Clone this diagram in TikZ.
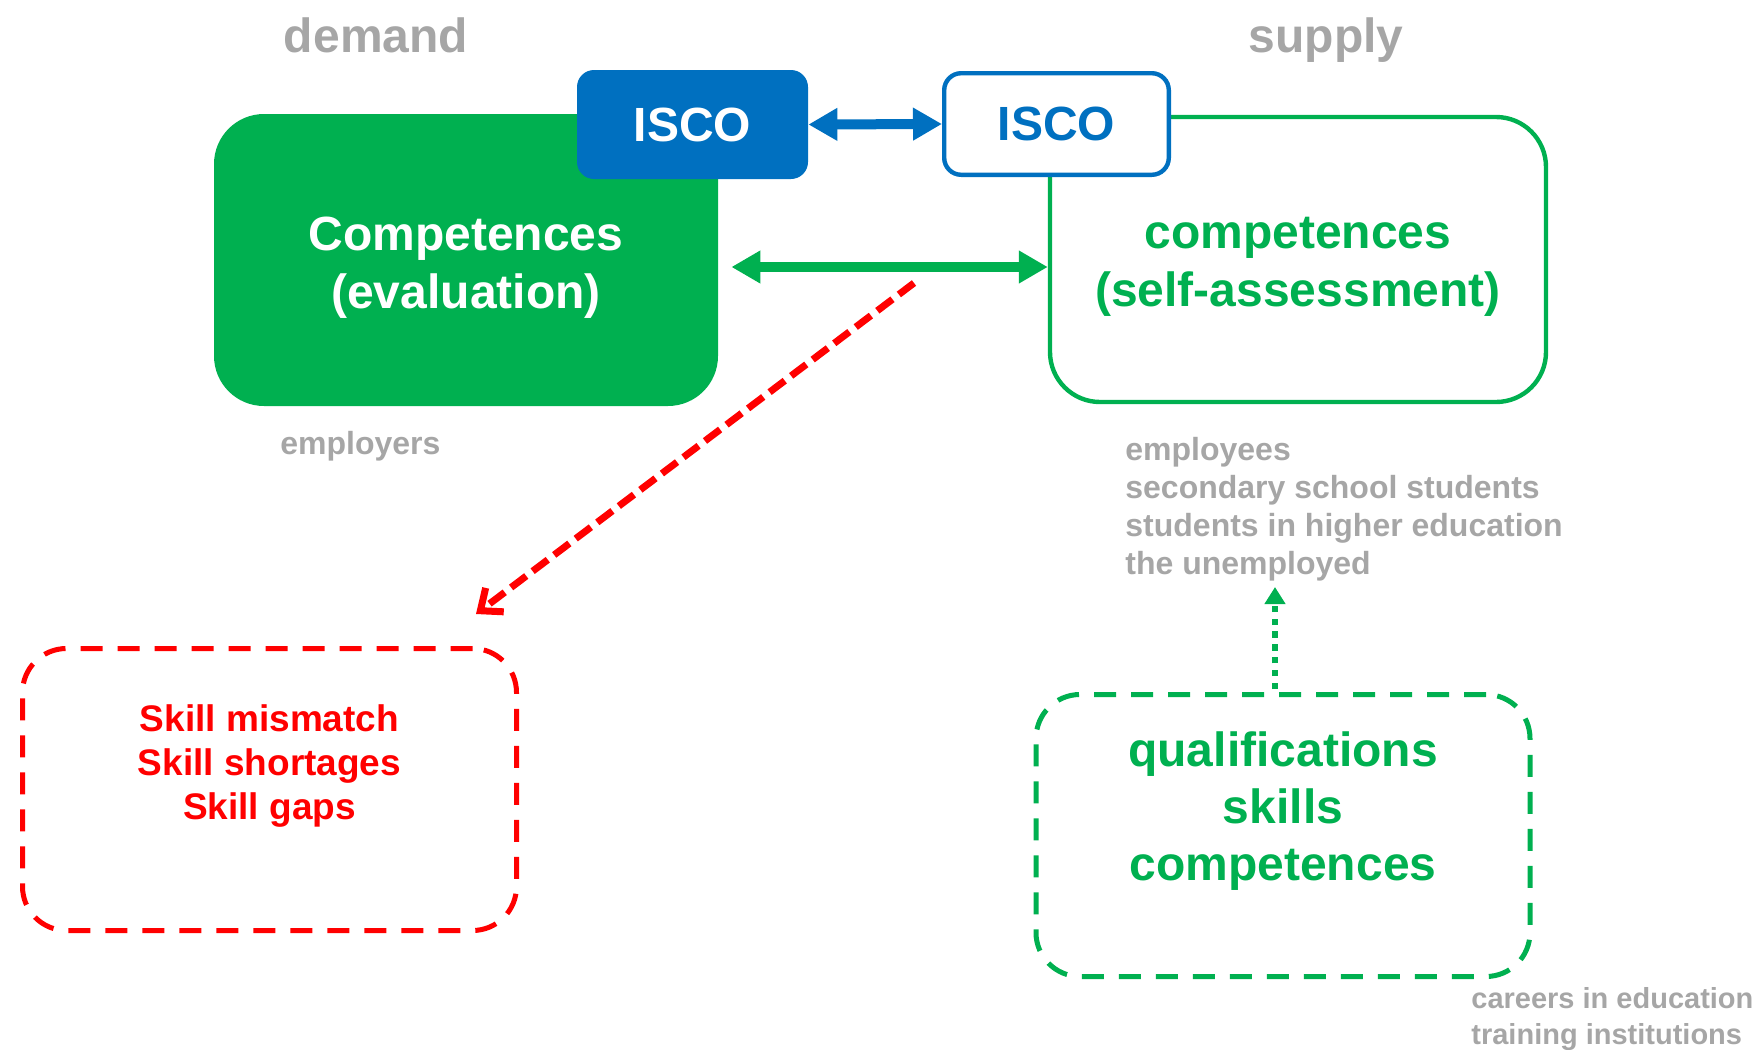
\documentclass[tikz,border=0pt]{standalone}
\usepackage{fontspec}
\setmainfont{Liberation Sans}
\usetikzlibrary{arrows.meta}
\definecolor{skgreen}{HTML}{00B050}
\definecolor{skblue}{HTML}{0070C0}
\definecolor{skred}{HTML}{FF0000}
\definecolor{skgray}{HTML}{A6A6A6}
\tikzset{
  bigtxt/.style={font=\fontsize{24}{29}\selectfont\bfseries, align=center},
  smalltxt/.style={text=skgray, font=\fontsize{16}{19}\selectfont\bfseries, align=left, inner sep=0pt},
  iscobox/.style={rounded corners=8.5pt, inner sep=0pt, font=\fontsize{24}{29}\selectfont\bfseries},
  mainbox/.style={rounded corners=25pt, inner sep=0pt},
  dashbox/.style={line width=2.5pt, dash pattern=on 11pt off 7.5pt, rounded corners=22pt,
    minimum width=247pt, minimum height=141pt},
  fatarrow/.style={line width=5pt, {Triangle[length=14.5pt,width=15.5pt]}-{Triangle[length=14.5pt,width=15.5pt]}},
}
\begin{document}
\begin{tikzpicture}[x=0.5pt, y=-0.5pt]
    \useasboundingbox (0,0) rectangle (1758,1050);
    % Headings
    \node[text=skgray, bigtxt, anchor=base] (demand) at (376,52) {demand};
    \node[text=skgray, bigtxt, anchor=base] (supply) at (1326,52) {supply};

    % Demand side
    \node[mainbox, fill=skgreen, minimum width=252pt, minimum height=146pt] (evalbox) at (466,260) {};
    \node[bigtxt, text=white] (evaltext) at ([yshift=-3.9pt]evalbox.center) {Competences\\(evaluation)};
    \node[iscobox, fill=skblue, text=white, minimum width=115.5pt, minimum height=54.5pt]
        (iscoleft) at (692.5,124.5) {ISCO};
    \node[smalltxt, anchor=base west] (employers) at (280,454) {employers};

    % Supply side
    \node[mainbox, draw=skgreen, line width=2.2pt, minimum width=248pt, minimum height=142.5pt]
        (selfbox) at (1298,259.5) {};
    \node[bigtxt, text=skgreen] (selftext) at ([yshift=-3.9pt]selfbox.center) {competences\\(self-assessment)};
    \node[iscobox, draw=skblue, line width=2.2pt, fill=white, text=skblue, minimum width=112.3pt, minimum height=50.8pt]
        (iscoright) at (1056.5,124) {ISCO};
    \node[smalltxt, anchor=north west] (learners) at (1125,437)
        {employees\\secondary school students\\students in higher education\\the unemployed};

    % Lower boxes
    \node[dashbox, draw=skred] (gapbox) at (269.5,789.5) {};
    \node[text=skred, font=\fontsize{18.5}{22}\selectfont\bfseries, align=center]
        (gaps) at ([yshift=11.9pt]gapbox.center) {Skill mismatch\\Skill shortages\\Skill gaps};
    \node[dashbox, draw=skgreen] (qualbox) at (1283,835.5) {};
    \node[text=skgreen, font=\fontsize{24}{28.5}\selectfont\bfseries, align=center]
        (quals) at ([yshift=12.25pt]qualbox.center) {qualifications\\skills\\competences};
    \node[smalltxt, font=\fontsize{14.5}{18}\selectfont\bfseries, anchor=north west] (careers) at (1471,987)
        {careers in education\\training institutions};

    % Connectors
    \coordinate (gapfrom) at (914,283);
    \coordinate (gapto) at (476,614);
    \coordinate (listfoot) at (1275,587);
    \draw[skblue, fatarrow] (iscoleft.east) -- (iscoright.west);
    \draw[skgreen, fatarrow] ([xshift=6.5pt,yshift=-3.5pt]evalbox.east) -- ([yshift=-3.75pt]selfbox.west);
    \draw[skred, line width=3.5pt, dash pattern=on 9.5pt off 4pt, -{Straight Barb[length=9pt,width=15pt]}] (gapfrom) -- (gapto);
    \draw[skgreen, line width=3.2pt, dash pattern=on 3.2pt off 3.2pt, -{Triangle[length=8.5pt,width=10pt]}]
        ([xshift=-4pt,yshift=1.5pt]qualbox.north) -- (listfoot);
\end{tikzpicture}
\end{document}
